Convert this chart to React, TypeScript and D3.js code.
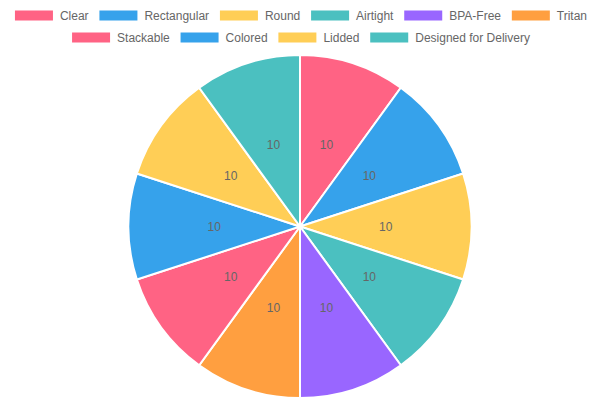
import React, { useMemo } from "react";
import * as d3 from "d3";

const categories = [
  "Clear",
  "Rectangular",
  "Round",
  "Airtight",
  "BPA-Free",
  "Tritan",
  "Stackable",
  "Colored",
  "Lidded",
  "Designed for Delivery",
];
const values = [10, 10, 10, 10, 10, 10, 10, 10, 10, 10];
const colors = [
  "#ff6384",
  "#36a2eb",
  "#ffce56",
  "#4bc0c0",
  "#9966ff",
  "#ff9f40",
  "#ff6384",
  "#36a2eb",
  "#ffce56",
  "#4bc0c0",
];

const W = 600;
const H = 400;
const FONT = "12px 'Liberation Sans', Arial, Helvetica, sans-serif";
const BOX_W = 38;
const BOX_H = 10;
const GAP = 10.8;

function measure(text: string): number {
  const c = document.createElement("canvas").getContext("2d");
  if (!c) return text.length * 6.5;
  c.font = FONT;
  return c.measureText(text).width;
}

export default function App() {
  const legendRows = useMemo(() => {
    const items = categories.map((c, i) => ({
      label: c,
      color: colors[i],
      w: BOX_W + 7 + measure(c),
    }));
    const rows: { label: string; color: string; w: number }[][] = [[]];
    let lineW = 0;
    const maxW = W - 20;
    items.forEach((it) => {
      const add = it.w + (rows[rows.length - 1].length ? GAP : 0);
      if (lineW + add > maxW && rows[rows.length - 1].length) {
        rows.push([it]);
        lineW = it.w;
      } else {
        rows[rows.length - 1].push(it);
        lineW += add;
      }
    });
    return rows;
  }, []);

  const cx = 300;
  const cy = 226.5;
  const r = 171.5;

  const pie = d3.pie<number>().sort(null).value((d) => d)(values);
  const arc = d3.arc<d3.PieArcDatum<number>>().innerRadius(0).outerRadius(r);
  const labelArc = d3
    .arc<d3.PieArcDatum<number>>()
    .innerRadius(r / 2)
    .outerRadius(r / 2);

  return (
    <svg
      width={W}
      height={H}
      style={{ position: "fixed", top: 0, left: 0, background: "#fff" }}
      fontFamily="'Liberation Sans', Arial, Helvetica, sans-serif"
    >
      {legendRows.map((row, ri) => {
        const total = row.reduce((s, it) => s + it.w, 0) + (row.length - 1) * GAP;
        let x = (W - total) / 2 + 1;
        const y = 15.5 + ri * 22;
        return (
          <g key={ri}>
            {row.map((it) => {
              const gx = x;
              x += it.w + GAP;
              return (
                <g key={it.label}>
                  <rect x={gx} y={y - BOX_H / 2} width={BOX_W} height={BOX_H} fill={it.color} />
                  <text
                    x={gx + BOX_W + 7}
                    y={y}
                    dy="0.35em"
                    fontSize={12}
                    fill="#666"
                  >
                    {it.label}
                  </text>
                </g>
              );
            })}
          </g>
        );
      })}
      <g transform={`translate(${cx},${cy})`}>
        {pie.map((d, i) => (
          <path key={i} d={arc(d) || ""} fill={colors[i]} stroke="#fff" strokeWidth={2} />
        ))}
        {pie.map((d, i) => {
          const [lx, ly] = labelArc.centroid(d);
          return (
            <text
              key={"l" + i}
              x={lx}
              y={ly}
              textAnchor="middle"
              dy="0.35em"
              fontSize={12}
              fill="#666"
            >
              {values[i]}
            </text>
          );
        })}
      </g>
    </svg>
  );
}
